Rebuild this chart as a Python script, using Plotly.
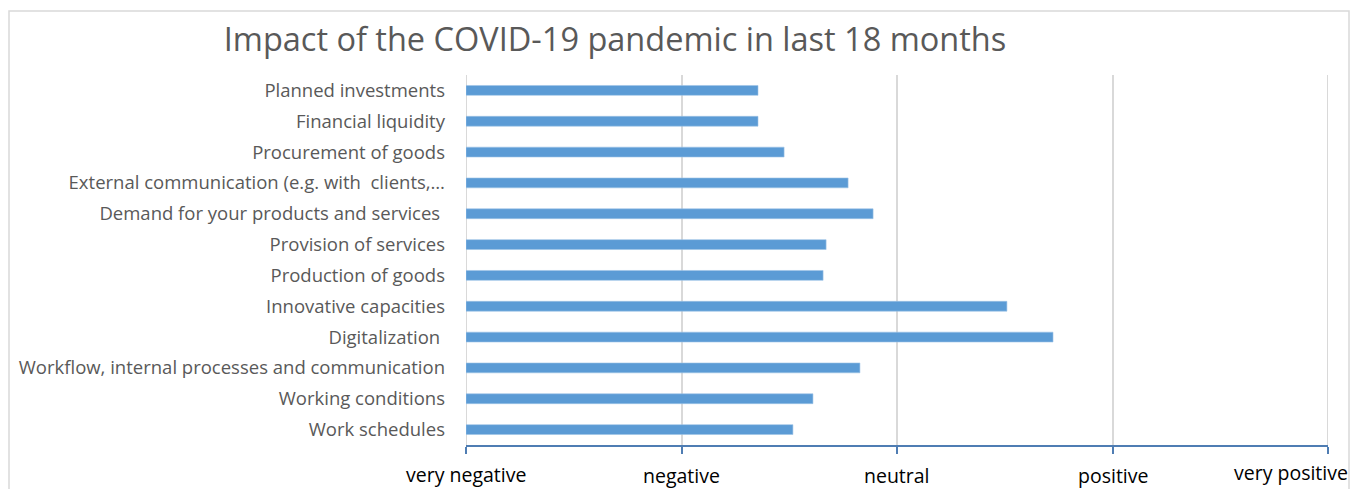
import plotly.graph_objects as go

categories = [
    "Planned investments",
    "Financial liquidity",
    "Procurement of goods",
    "External communication (e.g. with  clients,…",
    "Demand for your products and services ",
    "Provision of services",
    "Production of goods",
    "Innovative capacities",
    "Digitalization ",
    "Workflow, internal processes and communication",
    "Working conditions",
    "Work schedules",
]
values = [2.355, 2.355, 2.476, 2.773, 2.889, 2.671, 2.657, 3.510, 3.724, 2.828, 2.610, 2.517]

tick_values = [1, 2, 3, 4, 5]
tick_labels = ["very negative", "negative", "neutral", "positive", "very positive"]

fig = go.Figure()
fig.add_trace(go.Bar(
    x=[v - 1 for v in values], y=categories, orientation="h", base=1,
    marker=dict(color="#5B9BD5", line=dict(color="#9DC3E6", width=0.6)),
    width=0.32,
))

ann = []
yshifts = [0, -1, -1, -1, 2]
for i, (tv, tl) in enumerate(zip(tick_values, tick_labels)):
    a = dict(x=tv, y=0, xref="x", yref="paper", text=tl, showarrow=False,
             font=dict(family="Open Sans", size=19.5, color="#000000"),
             yanchor="middle", yshift=-29 + yshifts[i], xanchor="center")
    if i == len(tick_values) - 1:
        a["xanchor"] = "right"
        a["xshift"] = 22
    ann.append(a)

shapes = [dict(type="rect", xref="paper", yref="paper",
               x0=(9 - 466) / 862, x1=(1349 - 466) / 862,
               y0=-0.5, y1=(489 - 44 - 11) / 370,
               line=dict(color="#D9D9D9", width=1.5), fillcolor="rgba(0,0,0,0)",
               layer="below")]
# edge gridlines (plotly skips gridlines at the range ends)
for tv in (tick_values[0], tick_values[-1]):
    shapes.append(dict(type="line", xref="x", yref="paper", x0=tv, x1=tv, y0=0, y1=1,
                       line=dict(color="#D9D9D9", width=2), layer="below"))

fig.update_layout(
    width=1364, height=489,
    margin=dict(l=466, r=36, t=75, b=44),
    paper_bgcolor="white", plot_bgcolor="white",
    showlegend=False,
    title=dict(text="Impact of the COVID-19 pandemic in last 18 months",
               x=615 / 1364, xanchor="center", y=1 - 40 / 489, yanchor="middle",
               font=dict(family="Open Sans", size=32.5, color="#595959")),
    xaxis=dict(range=[1, 5], tickvals=tick_values, showticklabels=False,
               showgrid=True, gridcolor="#D9D9D9", gridwidth=2,
               zeroline=False, showline=True, linecolor="#4F7DB3", linewidth=1.5,
               ticks="outside", ticklen=7, tickcolor="#4F7DB3", tickwidth=1.5),
    yaxis=dict(autorange="reversed", showgrid=False, zeroline=False,
               ticks="", ticklabelstandoff=20,
               tickfont=dict(family="Open Sans", size=18.5, color="#595959")),
    annotations=ann,
    shapes=shapes,
)

fig.write_html("out.html", config={"displayModeBar": False},
               post_script="document.body.style.margin='0';")
